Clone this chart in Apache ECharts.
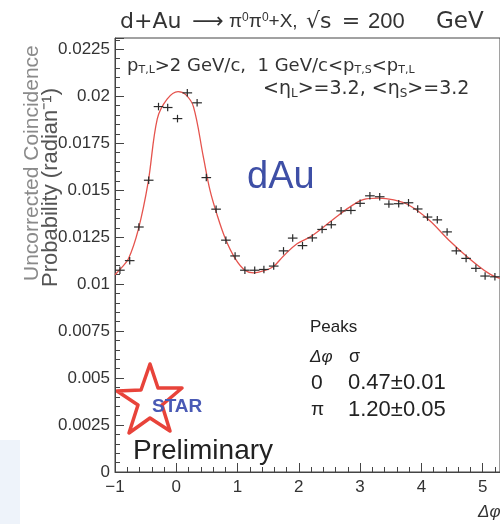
<!DOCTYPE html>
<html>
<head>
<meta charset="utf-8">
<script src="https://cdn.jsdelivr.net/npm/echarts@6/dist/echarts.min.js"></script>
<style>
html,body{margin:0;padding:0;background:#fff;}
#c{width:500px;height:524px;}
</style>
</head>
<body>
<div id="c"></div>
<script>
// ---- data ----
const binCenters = [-0.92,-0.76,-0.61,-0.45,-0.29,-0.14,0.02,0.18,0.34,0.49,
  0.65,0.81,0.96,1.12,1.28,1.43,1.59,1.75,1.90,2.06,
  2.22,2.38,2.53,2.69,2.85,3.00,3.16,3.32,3.47,3.63,
  3.79,3.94,4.10,4.26,4.42,4.57,4.73,4.89,5.04,5.20];
const probValues = [0.01074,0.01125,0.01304,0.01553,0.01945,0.01940,0.01881,0.02018,0.01965,0.01567,
  0.01399,0.01234,0.01150,0.01074,0.01074,0.01078,0.01096,0.01177,0.01245,0.01205,
  0.01246,0.01291,0.01316,0.01390,0.01392,0.01430,0.01470,0.01465,0.01426,0.01428,
  0.01433,0.01400,0.01357,0.01342,0.01278,0.01177,0.01137,0.01084,0.01043,0.01039];
const binHalfWidth = 0.0785;
const probError = 0.0002;

const fitX = [-1.0,-0.9,-0.78,-0.62,-0.46,-0.31,-0.15,0.03,0.15,0.28,0.44,0.55,0.66,0.80,0.96,1.12,1.26,1.42,1.58,1.75,1.97,2.18,2.39,2.60,2.83,3.05,3.30,3.55,3.80,4.13,4.45,4.78,5.10,5.28];
const fitY = [0.01050,0.01085,0.01135,0.01290,0.01540,0.01880,0.01985,0.02025,0.02010,0.01945,0.01680,0.01500,0.01375,0.01243,0.01137,0.01074,0.01060,0.01070,0.01092,0.01150,0.01215,0.01250,0.01300,0.01355,0.01410,0.01450,0.01458,0.01448,0.01420,0.01340,0.01234,0.01137,0.01057,0.01030];

const xTickLabels = ['\u22121','0','1','2','3','4','5'];
const yTickLabels = ['0','0.0025','0.005','0.0075','0.01','0.0125','0.015','0.0175','0.02','0.0225'];

// ---- chart ----
const chart = echarts.init(document.getElementById('c'), null, {renderer:'canvas'});
const pts = binCenters.map((x,i)=>[x, probValues[i], binHalfWidth, probError]);
const fit = fitX.map((x,i)=>[x, fitY[i]]);
const FONT = '"Liberation Sans", Arial, Helvetica, sans-serif';
const DJ = '"DejaVu Sans", sans-serif';
const axisColor = '#444';
const txt = (x, y, text, font, fill, align) => ({type: 'text', x: x, y: y, style: {text: text, font: font, fill: fill || '#222', textAlign: align || 'left', textVerticalAlign: 'middle'}});

const option = {
  backgroundColor: '#ffffff',
  animation: false,
  grid: {left: 115, top: 38, width: 386, height: 434, show: true, borderColor: axisColor, borderWidth: 1, backgroundColor: 'transparent'},
  xAxis: {
    type: 'value', min: -1, max: 5.2832, interval: 1,
    axisLine: {show: true, onZero: false, lineStyle: {color: axisColor}},
    axisTick: {show: true, inside: true, length: 9, lineStyle: {color: axisColor}},
    minorTick: {show: true, splitNumber: 5, length: 5, lineStyle: {color: axisColor}},
    splitLine: {show: false},
    axisLabel: {
      showMaxLabel: false, margin: 7, color: '#333', fontFamily: FONT, fontSize: 17,
      formatter: v => { const i = Math.round(v) + 1; return (Math.abs(v - Math.round(v)) < 1e-6 && i >= 0 && i < xTickLabels.length) ? xTickLabels[i] : ''; }
    }
  },
  yAxis: {
    type: 'value', min: 0, max: 0.0231, interval: 0.0025,
    axisLine: {show: true, onZero: false, lineStyle: {color: axisColor}},
    axisTick: {show: true, inside: true, length: 9, lineStyle: {color: axisColor}},
    minorTick: {show: true, splitNumber: 5, length: 5, lineStyle: {color: axisColor}},
    splitLine: {show: false},
    axisLabel: {
      showMaxLabel: false, margin: 5, color: '#333', fontFamily: FONT, fontSize: 17,
      formatter: v => { const i = Math.round(v / 0.0025); return (Math.abs(v - i * 0.0025) < 1e-7 && i < yTickLabels.length) ? yTickLabels[i] : ''; }
    }
  },
  series: [
    {
      type: 'line', data: fit, smooth: 0.35, showSymbol: false, symbol: 'none',
      lineStyle: {color: '#e5534d', width: 1.3}, z: 2
    },
    {
      type: 'custom', data: pts, z: 3,
      renderItem: function (params, api) {
        const x = api.value(0), y = api.value(1), ex = api.value(2), ey = api.value(3);
        const l = api.coord([x - ex, y]), r = api.coord([x + ex, y]);
        const t = api.coord([x, y + ey]), b = api.coord([x, y - ey]);
        const st = {stroke: '#2a2a2a', lineWidth: 1.2};
        return {type: 'group', children: [
          {type: 'line', shape: {x1: l[0], y1: l[1], x2: r[0], y2: r[1]}, style: st},
          {type: 'line', shape: {x1: t[0], y1: t[1], x2: b[0], y2: b[1]}, style: st}
        ]};
      }
    }
  ],
  graphic: [
    {type: 'rect', left: 0, top: 440, shape: {width: 20, height: 84}, style: {fill: '#eef3fa'}, z: -1},
    // title pieces
    txt(120, 22, 'd+Au', '22px ' + DJ, '#333'),
    txt(208, 22, '\u27f6', '22px ' + DJ, '#333', 'center'),
    {type: 'text', x: 229, y: 22, style: {
      rich: {n: {font: '19px ' + FONT, fill: '#333'}, p: {font: '12px ' + FONT, fill: '#333', padding: [0, 0, 8, 0]}},
      text: '{n|\u03c0}{p|0}{n|\u03c0}{p|0}{n|+X,}', textVerticalAlign: 'middle'}},
    txt(306, 22, '\u221as', '22px ' + DJ, '#333'),
    txt(351, 22, '=', '22px ' + DJ, '#333', 'center'),
    txt(368, 22, '200', '22px ' + FONT, '#333'),
    txt(436, 22, 'GeV', '23px ' + DJ, '#333'),
    // y-axis title (two lines)
    {type: 'text', x: 32, y: 281, rotation: Math.PI / 2, style: {text: 'Uncorrected Coincidence', font: '21px ' + FONT, fill: '#8a8a8a', textAlign: 'left', textVerticalAlign: 'middle'}},
    {type: 'text', x: 51, y: 287, rotation: Math.PI / 2, style: {text: 'Probability (radian\u207b\u00b9)', font: '22px ' + FONT, fill: '#555', textAlign: 'left', textVerticalAlign: 'middle'}},
    // cut labels
    {type: 'text', x: 127, y: 66, style: {
      rich: {n: {font: '18px ' + DJ, fill: '#333'}, s: {font: '11px ' + DJ, fill: '#333', padding: [9, 0, 0, 0]}},
      text: '{n|p}{s|T,L}{n|>2 GeV/c,  1 GeV/c<p}{s|T,S}{n|<p}{s|T,L}', textVerticalAlign: 'middle'}},
    {type: 'text', x: 263, y: 89, style: {
      rich: {n: {font: '19px ' + DJ, fill: '#333'}, s: {font: '12px ' + DJ, fill: '#333', padding: [10, 0, 0, 0]}},
      text: '{n|<\u03b7}{s|L}{n|>=3.2, <\u03b7}{s|S}{n|>=3.2}', textVerticalAlign: 'middle'}},
    txt(247, 178, 'dAu', '500 38px ' + FONT, '#3e4fa6'),
    // peaks table
    txt(310, 327, 'Peaks', '17px ' + FONT, '#222'),
    txt(310, 357, '\u0394\u03c6', 'italic 17px ' + FONT, '#222'),
    txt(349, 357, '\u03c3', '18px ' + FONT, '#222'),
    txt(311, 383, '0', '21px ' + FONT, '#222'),
    txt(348, 383, '0.47\u00b10.01', '22px ' + FONT, '#222'),
    txt(311, 410, '\u03c0', '19px ' + FONT, '#222'),
    txt(348, 410, '1.20\u00b10.05', '22px ' + FONT, '#222'),
    // STAR logo
    {type: 'polygon', shape: {points: [[150,364],[158,388],[182,388],[162,405],[170,431],[150,418],[129,433],[138,405],[117,391],[141,390]]},
      style: {fill: 'none', stroke: '#e8433a', lineWidth: 3.5, lineJoin: 'round'}},
    txt(152, 407, 'STAR', 'bold 19px ' + FONT, '#4a5ab5'),
    txt(133, 451, 'Preliminary', '28px ' + FONT, '#222'),
    txt(478, 512, '\u0394\u03c6', 'italic 17px ' + FONT, '#333')
  ]
};
chart.setOption(option);
</script>
</body>
</html>
